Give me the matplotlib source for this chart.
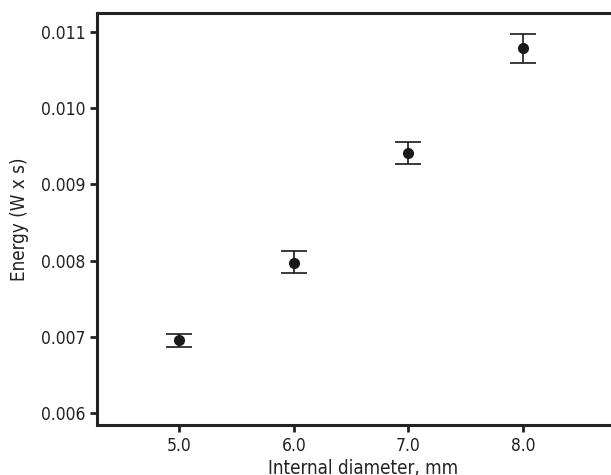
import matplotlib
matplotlib.use("Agg")
import matplotlib.pyplot as plt

plt.rcParams['font.family'] = ['DejaVu Sans']
plt.rcParams['font.stretch'] = 'condensed'

# data
diameter = [5.0, 6.0, 7.0, 8.0]
energy = [0.00695, 0.00797, 0.00941, 0.01079]
err_low = [0.00009, 0.00014, 0.00014, 0.00019]
err_high = [0.00009, 0.00015, 0.00015, 0.00019]

fig = plt.figure(figsize=(6.11, 4.75), dpi=100)
ax = fig.add_axes([97 / 611, 1 - 425 / 475, 1.03 - 97 / 611, (425 - 13) / 475])

ax.errorbar(diameter, energy, yerr=[err_low, err_high], fmt='o', color='#1a1a1a',
            markersize=7, elinewidth=1.2, capsize=9.5, capthick=1.2)

ax.set_xlim(4.28, 8.93)
ax.set_ylim(0.00584, 0.01125)
ax.set_xticks(diameter)
ax.set_xticklabels(['5.0', '6.0', '7.0', '8.0'])
ax.set_yticks([0.006, 0.007, 0.008, 0.009, 0.010, 0.011])
ax.set_yticklabels(['0.006', '0.007', '0.008', '0.009', '0.010', '0.011'])

for s in ax.spines.values():
    s.set_linewidth(2.2)
    s.set_color('#222222')
ax.spines['right'].set_visible(False)
ax.tick_params(direction='out', length=5, width=2, colors='#222222',
               labelsize=12.5, labelcolor='#222222')

ax.set_xlabel('Internal diameter, mm', fontsize=13.5, color='#222222', labelpad=3)
ax.set_ylabel('Energy (W x s)', fontsize=13.5, color='#222222', labelpad=8)

fig.savefig('out.png', dpi=100)
